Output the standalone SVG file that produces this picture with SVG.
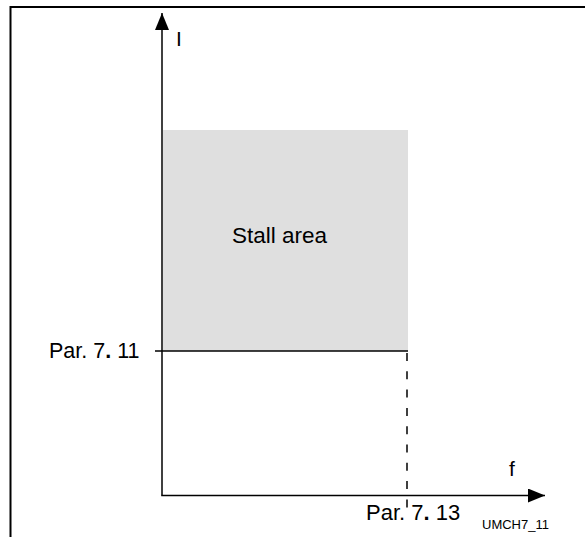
<svg xmlns="http://www.w3.org/2000/svg" width="585" height="537" viewBox="0 0 585 537">
<style>
text{font-family:"Liberation Sans",Arial,sans-serif;fill:#000}
.ax{stroke:#000;stroke-width:1.5;fill:none}
</style>
<defs>
<marker id="ah" markerUnits="userSpaceOnUse" markerWidth="18" markerHeight="14" refX="17" refY="7" orient="auto">
<path d="M0,0 L17,7 L0,14 Z" fill="#000"/>
</marker>
</defs>
<rect width="585" height="537" fill="#fff"/>
<g id="frame">
<path d="M10.5,537 V7 H585" fill="none" stroke="#000" stroke-width="2"/>
</g>
<g id="stall-area">
<rect x="163" y="130" width="245" height="221" fill="#dfdfdf"/>
<text x="232" y="243" font-size="22.5">Stall area</text>
</g>
<g id="connectors">
<line class="ax" x1="162" y1="495.5" x2="162" y2="13" marker-end="url(#ah)"/>
<line class="ax" x1="161.25" y1="495.5" x2="545" y2="495.5" marker-end="url(#ah)"/>
<line class="ax" x1="155" y1="351" x2="408" y2="351"/>
<line class="ax" x1="407" y1="353" x2="407" y2="510" stroke-dasharray="8,10.3"/>
</g>
<g id="labels">
<text x="176" y="46" font-size="21">I</text>
<text x="509" y="476" font-size="21">f</text>
<text x="49" y="358" font-size="21.5">Par. 7<tspan font-weight="bold">.</tspan> 11</text>
<text x="366" y="520" font-size="22">Par. 7<tspan font-weight="bold">.</tspan> 13</text>
<text x="482" y="529" font-size="13">UMCH7_11</text>
</g>
</svg>
